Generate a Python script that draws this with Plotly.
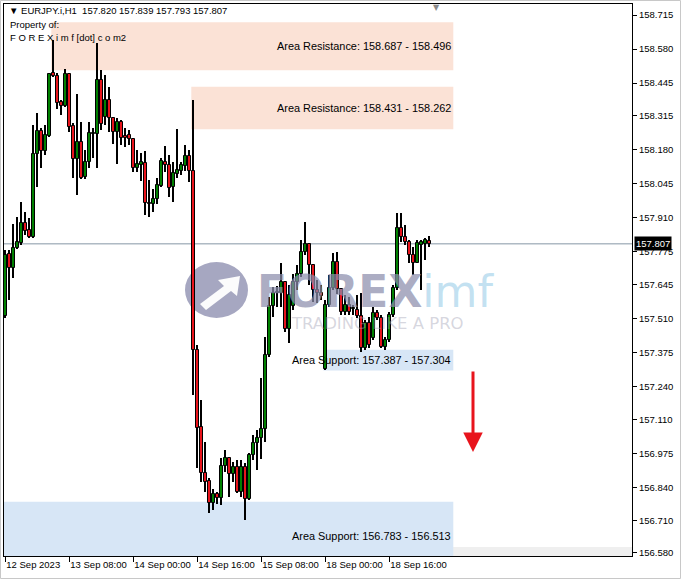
import plotly.graph_objects as go

# ---------------- data (EURJPY.i, H1) ----------------
opens = [157.521, 157.767, 157.711, 157.790, 157.810, 157.890, 157.862, 157.834, 158.163, 158.255,
         158.175, 158.235, 158.485, 158.473, 158.370, 158.354, 158.481, 158.275, 158.144, 158.211,
         158.072, 158.132, 158.243, 158.243, 158.457, 158.310, 158.378, 158.306, 158.251, 158.290,
         158.235, 158.239, 158.223, 158.108, 158.120, 158.128, 157.969, 157.965, 157.985, 158.036,
         158.132, 158.120, 158.032, 158.084, 158.096, 158.116, 158.156, 158.096, 157.386, 157.080,
         156.898, 156.866, 156.779, 156.814, 156.798, 156.925, 156.957, 156.894, 156.921, 156.822,
         156.921, 156.794, 156.969, 157.017, 157.037, 157.072, 157.366, 157.560, 157.612, 157.612,
         157.656, 157.469, 157.560, 157.656, 157.687, 157.775, 157.806, 157.723, 157.624, 157.612,
         157.310, 157.564, 157.632, 157.735, 157.628, 157.537, 157.564, 157.548, 157.544, 157.521,
         157.394, 157.493, 157.433, 157.533, 157.513, 157.398, 157.425, 157.525, 157.632, 157.870,
         157.834, 157.814, 157.763, 157.731, 157.802, 157.806, 157.820]
highs = [157.782, 157.782, 157.886, 157.913, 157.973, 157.933, 157.909, 158.279, 158.326, 158.267,
         158.279, 158.485, 158.616, 158.485, 158.378, 158.501, 158.485, 158.286, 158.402, 158.290,
         158.179, 158.290, 158.267, 158.604, 158.497, 158.477, 158.429, 158.310, 158.306, 158.298,
         158.267, 158.259, 158.227, 158.179, 158.167, 158.175, 158.060, 158.025, 158.068, 158.148,
         158.195, 158.160, 158.132, 158.263, 158.132, 158.199, 158.179, 158.378, 157.406, 157.187,
         157.021, 156.878, 156.834, 156.822, 156.957, 156.989, 156.961, 156.941, 156.949, 156.949,
         156.937, 156.977, 157.048, 157.068, 157.275, 157.437, 157.596, 157.636, 157.640, 157.731,
         157.660, 157.644, 157.687, 157.723, 157.822, 157.894, 157.810, 157.723, 157.663, 157.644,
         157.584, 157.683, 157.771, 157.775, 157.628, 157.604, 157.596, 157.564, 157.604, 157.612,
         157.505, 157.517, 157.556, 157.544, 157.525, 157.437, 157.537, 157.644, 157.929, 157.929,
         157.882, 157.822, 157.794, 157.822, 157.822, 157.830, 157.839]
lows = [157.513, 157.584, 157.671, 157.786, 157.802, 157.842, 157.830, 157.830, 158.032, 158.108,
        158.160, 158.231, 158.469, 158.342, 158.318, 158.350, 158.251, 158.068, 158.001, 158.064,
        158.064, 158.108, 158.148, 158.108, 158.259, 158.279, 158.251, 158.203, 158.124, 158.199,
        158.191, 158.199, 158.092, 158.092, 158.056, 157.921, 157.913, 157.933, 157.965, 158.032,
        158.092, 157.993, 157.973, 158.068, 158.080, 158.096, 158.052, 157.207, 156.918, 156.862,
        156.822, 156.739, 156.751, 156.775, 156.771, 156.902, 156.802, 156.862, 156.818, 156.802,
        156.711, 156.790, 156.949, 156.910, 156.953, 157.021, 157.358, 157.517, 157.556, 157.556,
        157.457, 157.414, 157.544, 157.624, 157.675, 157.763, 157.644, 157.576, 157.572, 157.584,
        157.306, 157.556, 157.624, 157.608, 157.525, 157.525, 157.525, 157.525, 157.513, 157.378,
        157.386, 157.394, 157.425, 157.505, 157.394, 157.386, 157.417, 157.517, 157.624, 157.814,
        157.802, 157.731, 157.683, 157.731, 157.624, 157.743, 157.793]
closes = [157.763, 157.711, 157.790, 157.814, 157.890, 157.858, 157.834, 158.163, 158.255, 158.175,
          158.239, 158.481, 158.473, 158.366, 158.354, 158.481, 158.271, 158.144, 158.211, 158.068,
          158.132, 158.247, 158.247, 158.457, 158.283, 158.378, 158.306, 158.251, 158.290, 158.227,
          158.227, 158.223, 158.108, 158.124, 158.132, 157.969, 157.965, 157.985, 158.040, 158.136,
          158.120, 158.029, 158.088, 158.100, 158.120, 158.156, 158.096, 157.386, 157.076, 156.898,
          156.862, 156.779, 156.814, 156.798, 156.925, 156.957, 156.894, 156.921, 156.822, 156.921,
          156.794, 156.969, 157.017, 157.037, 157.072, 157.366, 157.560, 157.612, 157.616, 157.656,
          157.469, 157.604, 157.656, 157.687, 157.775, 157.806, 157.723, 157.624, 157.612, 157.600,
          157.564, 157.632, 157.735, 157.628, 157.537, 157.564, 157.537, 157.552, 157.521, 157.394,
          157.493, 157.406, 157.533, 157.513, 157.398, 157.425, 157.525, 157.632, 157.870, 157.834,
          157.814, 157.763, 157.731, 157.810, 157.814, 157.822, 157.807]

# x-axis labels (bar index -> label), H1 bars
time_tick_bars = [0, 16, 32, 48, 64, 80, 96]
time_tick_labels = ["12 Sep 2023", "13 Sep 08:00", "14 Sep 00:00", "14 Sep 16:00",
                    "15 Sep 08:00", "18 Sep 00:00", "18 Sep 16:00"]

price_ticks = [158.715, 158.580, 158.445, 158.315, 158.180, 158.045, 157.910, 157.775, 157.645,
               157.510, 157.375, 157.240, 157.110, 156.975, 156.840, 156.710, 156.580]

# zones
zone_kind = ["Area Resistance", "Area Resistance", "Area Support", "Area Support"]
zone_high = [158.687, 158.431, 157.387, 156.783]
zone_low = [158.496, 158.262, 157.304, 156.513]
zone_start_bar = [12, 47, 80, -2]
zone_end_bar = [112, 112, 112, 112]

last_price = 157.807
header = "EURJPY.i,H1  157.820 157.839 157.793 157.807"

# ---------------- figure ----------------
W, H = 681, 579
L, R, T, B = 4, 632, 4, 556
BULL, BEAR = "#008000", "#E8141C"


def pxx(x):
    return (x - L) / (R - L)


def pxy(y):
    return (B - y) / (B - T)


n = len(opens)
xs = list(range(n))
body_base = [min(o, c) for o, c in zip(opens, closes)]
body_len = [max(abs(c - o), 0.0008) for o, c in zip(opens, closes)]
body_col = [BULL if c >= o else BEAR for o, c in zip(opens, closes)]
wick_len = [h - l for h, l in zip(highs, lows)]

fig = go.Figure()
# wicks
fig.add_trace(go.Bar(x=xs, y=wick_len, base=lows, width=0.22,
                     marker=dict(color="black", line=dict(width=0)),
                     showlegend=False, hoverinfo="skip"))
# bodies
fig.add_trace(go.Bar(x=xs, y=body_len, base=body_base, width=0.62,
                     marker=dict(color=body_col, line=dict(color="black", width=1)),
                     showlegend=False, hoverinfo="skip"))

shapes = []
annos = []
res_fill = "#FBE2D6"
sup_fill = "#D7E6F6"
for k, hi, lo, x0, x1 in zip(zone_kind, zone_high, zone_low, zone_start_bar, zone_end_bar):
    shapes.append(dict(type="rect", xref="x", yref="y", x0=x0 - 0.5 if x0 >= 0 else -5, x1=x1,
                       y0=lo, y1=hi, fillcolor=res_fill if "Resist" in k else sup_fill,
                       line=dict(width=0), layer="below"))
    annos.append(dict(x=x1 - 0.1, y=(hi + lo) / 2, xref="x", yref="y", xanchor="right",
                      yanchor="middle", showarrow=False,
                      text=f"{k}: {hi:.3f} - {lo:.3f}",
                      font=dict(family="Liberation Sans, Arial", size=10.9, color="#000000")))

# light gray strip at bottom right
shapes.append(dict(type="rect", xref="paper", yref="paper", x0=pxx(453), x1=1,
                   y0=0, y1=pxy(547), fillcolor="#EFEFEF", line=dict(width=0), layer="below"))

# bid line
shapes.append(dict(type="line", xref="paper", yref="y", x0=0, x1=1, y0=last_price, y1=last_price,
                   line=dict(color="#8696A5", width=1), layer="below"))

# watermark logo circle
shapes.append(dict(type="circle", xref="paper", yref="paper", x0=pxx(185), x1=pxx(248),
                   y0=pxy(318), y1=pxy(262), fillcolor="rgba(150,152,182,0.85)",
                   line=dict(width=0), layer="below"))
arrow_pts = [(200, 304), (224, 286), (218, 280), (240, 276), (237, 296), (231, 291), (206, 310)]
path = "M " + " L ".join(f"{pxx(a)},{pxy(b)}" for a, b in arrow_pts) + " Z"
shapes.append(dict(type="path", xref="paper", yref="paper", path=path,
                   fillcolor="rgba(255,255,255,0.95)", line=dict(width=0), layer="below"))

# outer window border
shapes.append(dict(type="rect", xref="paper", yref="paper", x0=pxx(0.5), x1=pxx(680.5),
                   y0=pxy(578.5), y1=pxy(0.5), line=dict(color="#C8C8C8", width=1),
                   fillcolor="rgba(0,0,0,0)"))

# watermark text
annos.append(dict(x=pxx(255), y=pxy(291), xref="paper", yref="paper", xanchor="left",
                  yanchor="middle", showarrow=False,
                  text="<b>FOREX</b><span style='color:rgba(135,195,228,0.7)'>imf</span>",
                  font=dict(family="DejaVu Sans", size=44, color="rgba(140,142,172,0.72)")))
annos.append(dict(x=pxx(289), y=pxy(323), xref="paper", yref="paper", xanchor="left",
                  yanchor="middle", showarrow=False, text="TRADING LIKE A PRO",
                  font=dict(family="DejaVu Sans", size=16.5, color="rgba(165,165,182,0.45)")))

# header text
annos.append(dict(x=pxx(7), y=pxy(11), xref="paper", yref="paper", xanchor="left",
                  yanchor="middle", showarrow=False, text="▼ " + header,
                  font=dict(family="Liberation Sans, Arial", size=9.5, color="#000000")))
annos.append(dict(x=pxx(8), y=pxy(25), xref="paper", yref="paper", xanchor="left",
                  yanchor="middle", showarrow=False, text="Property of:",
                  font=dict(family="Liberation Sans, Arial", size=9.5, color="#000000")))
annos.append(dict(x=pxx(8), y=pxy(37), xref="paper", yref="paper", xanchor="left",
                  yanchor="middle", showarrow=False, text="F O R E X i m f [dot] c o m2",
                  font=dict(family="Liberation Sans, Arial", size=9.5, color="#000000")))
# chart shift marker
annos.append(dict(x=pxx(436), y=pxy(7), xref="paper", yref="paper", xanchor="center",
                  yanchor="middle", showarrow=False, text="▼",
                  font=dict(family="DejaVu Sans", size=8, color="#8A8A8A")))

# last price label on axis
annos.append(dict(x=1, y=last_price, xref="paper", yref="y", xanchor="left", yanchor="middle",
                  xshift=2, showarrow=False, text=f"{last_price:.3f}", bgcolor="#000000",
                  borderpad=1,
                  font=dict(family="Liberation Sans, Arial", size=9.5, color="#FFFFFF")))

# red down arrow
annos.append(dict(x=pxx(473), y=pxy(452), xref="paper", yref="paper", ax=0, ay=-82,
                  showarrow=True, arrowhead=2, arrowsize=1.3,
                  arrowwidth=3, arrowcolor="#E8141C", text=""))

fig.update_layout(
    width=W, height=H,
    margin=dict(l=L, r=W - R, t=T, b=H - B, autoexpand=False),
    paper_bgcolor="white", plot_bgcolor="white", barmode="overlay", bargap=0,
    shapes=shapes, annotations=annos, showlegend=False, hovermode=False,
    xaxis=dict(range=[(L - 5.3) / 4, (R - 5.3) / 4],
               tickmode="array", tickvals=time_tick_bars, ticktext=time_tick_labels,
               ticks="outside", ticklen=5, tickcolor="black", showgrid=False, zeroline=False,
               showline=True, linecolor="black", linewidth=1, mirror=True,
               ticklabelposition="outside right", tickangle=0, automargin=False,
               tickfont=dict(family="Liberation Sans, Arial", size=9.5, color="black")),
    yaxis=dict(range=[156.568, 158.759], side="right", tickmode="array", tickvals=price_ticks,
               ticktext=[f"{v:.3f}" for v in price_ticks], ticks="outside", ticklen=4,
               tickcolor="black", showgrid=False, zeroline=False, showline=True,
               linecolor="black", linewidth=1, mirror=True, automargin=False,
               tickfont=dict(family="Liberation Sans, Arial", size=9.5, color="black")),
)

fig.write_html("out.html", config={"displayModeBar": False},
               post_script="document.body.style.margin='0';document.body.style.padding='0';")
